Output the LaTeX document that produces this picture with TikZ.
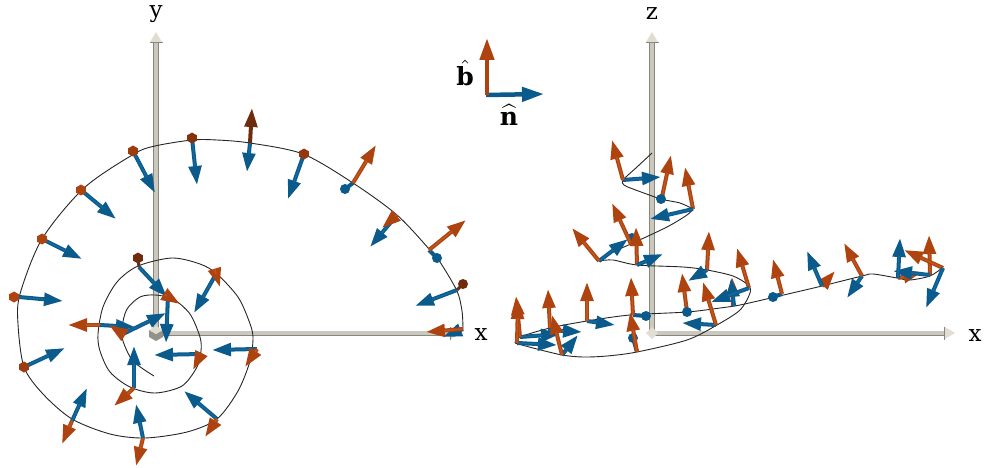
\documentclass[tikz,border=0pt]{standalone}
\usepackage{fontspec}
\setmainfont{DejaVu Serif}
\usetikzlibrary{arrows.meta}
\definecolor{om}{HTML}{AE430F}
\definecolor{ol}{HTML}{BE5820}
\definecolor{bm}{HTML}{0A5A8C}
\definecolor{bl}{HTML}{146A9E}
\definecolor{brn}{HTML}{6E2C0C}
\definecolor{axm}{HTML}{CBC8BD}
\definecolor{axd}{HTML}{87857D}
\definecolor{axh}{HTML}{E0DDD3}
\tikzset{
  curve/.style={line width=0.9pt,black!85},
  lbl/.style={font=\fontsize{23}{26}\selectfont,inner sep=0pt},
  hlbl/.style={scale=2.5,inner sep=0pt},
  oarr/.style={line width=4pt,om,-{Triangle[length=19pt,width=12.5pt]}},
  barr/.style={line width=4pt,bm,-{Triangle[length=19pt,width=12.5pt]}},
  narr/.style={line width=4pt,brn,-{Triangle[length=19pt,width=12.5pt]}},
  oin/.style={line width=1.4pt,ol,shorten >=18pt},
  bin/.style={line width=1.4pt,bl,shorten >=18pt},
  oleg/.style={line width=4.5pt,om,-{Triangle[length=22pt,width=14pt]}},
  bleg/.style={line width=4.5pt,bm,-{Triangle[length=22pt,width=14pt]}},
}
\newcommand{\oa}[2]{\draw[oarr] (#1)--(#2);\draw[oin] (#1)--(#2);}
\newcommand{\ba}[2]{\draw[barr] (#1)--(#2);\draw[bin] (#1)--(#2);}
\newcommand{\na}[2]{\draw[narr] (#1)--(#2);}
\newcommand{\bb}[2]{\draw[bm,line width=4pt] (#1)--(#2);\fill[bm] (#2) circle (5);}
\newcommand{\hexd}[2]{\fill[#1] (#2)+(30:5.5)--+(90:5.5)--+(150:5.5)--+(210:5.5)--+(270:5.5)--+(330:5.5)--cycle;}
\newcommand{\bdot}[1]{\fill[bm] (#1) circle (5);}
\newcommand{\vaxis}[3]{% x, bottom y, tip y
  \fill[axm] (#1-2.5,#2)--(#1+2.5,#2)--(#1+2.5,#3+11)--(#1-2.5,#3+11)--cycle;
  \draw[axd,line width=1pt] (#1+2.5,#2)--(#1+2.5,#3+11);
  \draw[axd,line width=1pt] (#1-2.5,#2)--(#1-2.5,#3+11);
  \fill[axh] (#1,#3)--(#1+6.5,#3+11)--(#1-6.5,#3+11)--cycle;
  \draw[axd,line width=1pt] (#1+6.5,#3+11)--(#1-6.5,#3+11);}
\newcommand{\haxis}[3]{% y, left x, tip x
  \fill[axm] (#2,#1-2.5)--(#2,#1+2.5)--(#3-11,#1+2.5)--(#3-11,#1-2.5)--cycle;
  \draw[axd,line width=1pt] (#2,#1+2.5)--(#3-11,#1+2.5);
  \fill[axh] (#3,#1)--(#3-11,#1+6.5)--(#3-11,#1-6.5)--cycle;
  \draw[axd,line width=1pt] (#3-11,#1+6.5)--(#3-11,#1-6.5);}
\begin{document}
\begin{tikzpicture}[x=1pt,y=-1pt]
\useasboundingbox (0,0) rectangle (986,468);
% ---------- left axes
\vaxis{156}{333}{32}
\haxis{333}{156}{461}
\fill[axd!90] (156,334)--(163,330)--(163,337)--(156,341)--(149,337)--(149,330)--cycle;
\fill[axh] (156,326)--(163,330)--(156,334)--(149,330)--cycle;
\node[lbl] (ly) at (156,14) {y};
\node[lbl] (lx) at (481,335) {x};
% ---------- left curve
\draw[curve] plot[smooth,tension=0.5] coordinates {
(154,376)(133,361)(123,341)(122,327)(127,309)(140,297)(155,295)(173,299)(190,314)(200,337)(201,351)(197,367)(182,386)(155,393)(130,387)(110,372)(100,351)(98,334)(103,307)(117,282)(138,266)(172,258)(200,264)(217,274)(238,297)(249,321)(253,337)(250,361)(238,391)(217,419)(187,432)(145,438)(110,434)(72,419)(43,394)(24,367)(18,324)(20,294)(42,239)(84,188)(134,154)(155,146)(192,140)(217,140)(250,143)(303,154)(353,183)(397,215)(430,250)(440,262)(457,291)(462,311)(463,329)};
% ---------- left frames
\ba{81,190}{116,219}\hexd{om}{81,190}
\ba{133,151}{155,193}\hexd{om!90!black}{133,151}
\ba{192,138}{197,185}\hexd{om!75!black}{192,138}
\ba{250,143}{247,172}\na{250,143}{252,108}
\ba{304,154}{288,199}\hexd{om!85!black}{304,154}
\bb{353,183}{345,189}\oa{353,183}{376,145}
\ba{397,215}{370,247}\oa{397,215}{382,228}
\bb{429,250}{437,258}\oa{429,250}{466,220}
\ba{457,290}{415,306}\fill[brn] (463,284) circle (5);\draw[brn,line width=3pt] (457,290)--(463,284);
\ba{463,329}{443,337}\oa{463,329}{426,332}
\ba{42,239}{82,259}\hexd{om}{42,239}
\ba{19,297}{63,301}\hexd{om}{14,297}
\ba{24,367}{65,348}\hexd{om!90!black}{24,367}
\ba{72,421}{87,388}\oa{72,421}{62,444}
\ba{143,438}{136,404}\oa{143,438}{136,466}
\ba{217,419}{184,391}\oa{217,419}{205,437}
\ba{257,349}{212,350}\oa{257,349}{245,367}
\ba{216,274}{194,313}\oa{216,274}{220,287}
\draw[brn,line width=3pt] (139,267)--(138,258);\hexd{brn}{138,258}
\ba{139,267}{167,297}
\ba{100,325}{135,327}\oa{100,325}{68,325}
\ba{123,334}{166,313}\oa{123,334}{109,325}
\ba{168,296}{166,343}\oa{167,296}{180,304}
\ba{134,388}{134,346}\oa{134,388}{114,406}
\ba{201,354}{154,355}\oa{201,354}{193,370}
% ---------- legend
\draw[bleg] (486,95)--(544,94);
\draw[oleg] (487,95)--(487,38);
\node[hlbl] (lb) at (465,73) {$\hat{\mathbf{b}}$};
\node[hlbl] (ln) at (509,115) {$\widehat{\mathbf{n}}$};
% ---------- right axes
\vaxis{652}{333}{32}
\haxis{333}{652}{955}
\fill[axh] (652,327)--(658,333)--(652,339)--(646,333)--cycle;
\node[lbl] (rz) at (652,14) {z};
\node[lbl] (rx) at (975,336) {x};
% ---------- right curve
\draw[curve] plot[smooth,tension=0.5] coordinates {
(652,153)(637,167)(623,180)(624,185)(633,189)(661,199)(680,203)(693,209)};
\draw[curve] plot[smooth,tension=0.5] coordinates {
(693,209)(687,215)(667,227)(633,243)(613,252)(599,261)};
\draw[curve] plot[smooth,tension=0.5] coordinates {
(599,261)(613,260)(637,265)(683,267)(707,270)(733,276)(748,285)(750,293)(740,310)(717,325)(687,340)(637,352)(607,356)(583,357)(562,355)(533,348)(515,343)};
\draw[curve] plot[smooth,tension=0.5] coordinates {
(515,343)(520,337)(550,328)(587,321)(630,315)(687,312)(720,308)(740,305)(775,297)(822,286)(862,276)(873,274)(897,278)(910,280)(930,276)(942,268)};
% ---------- right frames
\ba{623,180}{661,177}\oa{623,180}{612,140}
\oa{662,197}{671,155}\bdot{661,199}
\oa{693,209}{685,167}\ba{693,209}{650,219}
\ba{599,261}{628,239}\oa{599,261}{572,228}
\bdot{632,238}\oa{631,244}{612,203}
\oa{637,265}{636,227}\ba{637,265}{663,254}
\oa{707,270}{709,231}\ba{707,270}{688,281}
\oa{733,306}{732,277}\ba{734,306}{731,278}
\oa{749,288}{737,248}\ba{749,288}{711,302}
\oa{687,312}{682,273}\bdot{687,312}
\ba{716,325}{682,323}\oa{716,325}{703,282}
\bb{633,315}{646,316}\oa{633,315}{631,277}
\bb{637,352}{633,338}\oa{637,352}{630,312}
\ba{587,321}{615,325}\oa{587,321}{587,282}
\ba{548,330}{582,332}\oa{550,328}{548,289}
\ba{520,337}{560,334}\oa{520,337}{516,296}
\ba{517,343}{557,345}\oa{517,343}{518,300}
\ba{562,355}{578,335}\oa{562,355}{552,315}
\bb{782,294}{773,297}\oa{782,294}{773,259}
\oa{822,286}{835,271}\ba{822,286}{807,251}
\ba{862,276}{847,298}\oa{862,276}{844,243}
\oa{898,278}{922,272}
\oa{930,275}{929,235}\ba{930,275}{893,271}
\ba{898,278}{900,238}
\oa{943,268}{904,250}\ba{943,268}{926,308}
\end{tikzpicture}
\end{document}
